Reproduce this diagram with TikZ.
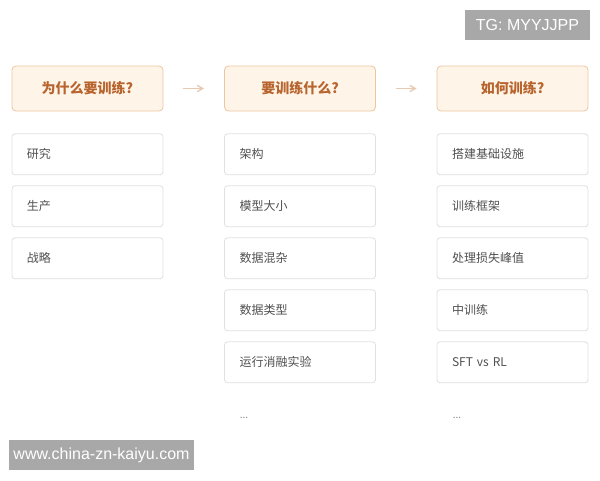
\documentclass[tikz,border=0pt]{standalone}
\usepackage{fontspec}
\setmainfont{Noto Sans CJK SC}
\newfontfamily\markfont{Liberation Sans}
\usepackage{tikz}
\usetikzlibrary{arrows,positioning}
\definecolor{headfill}{HTML}{FEF5E8}
\definecolor{headline}{HTML}{EBC6A2}
\definecolor{headtext}{HTML}{B8642E}
\definecolor{itemline}{HTML}{E0E0E0}
\definecolor{itemtext}{HTML}{505050}
\definecolor{arrowcol}{HTML}{E6CBB2}
\definecolor{markgray}{HTML}{A8A8A8}
\tikzset{HEAD style/.style={draw=headline,fill=headfill,rounded corners=4pt,line width=0.8pt,
		minimum width=151pt,minimum height=45pt,font=\fontsize{14}{16}\selectfont\bfseries,text=headtext},
	ITEM style/.style={draw=itemline,fill=white,rounded corners=3pt,line width=0.8pt,
		minimum height=41pt,text width=121pt,inner xsep=15pt,align=left,
		font=\fontsize{12}{14}\selectfont,text=itemtext}}

\begin{document}
\begin{tikzpicture}[x=1pt,y=-1pt,node distance=10.2pt,>=angle 60]
	\useasboundingbox (0,0) rectangle (600,480);
	
	% the three questions
	\node[HEAD style] (H1) at (87.5,88.5) {为什么要训练?};
	\node[HEAD style] (H2) at (300,88.5) {要训练什么?};
	\node[HEAD style] (H3) at (512.5,88.5) {如何训练?};
	
	\draw[arrowcol, line width=1.4pt, ->, shorten <=20pt, shorten >=20pt] (H1) -- (H2);
	\draw[arrowcol, line width=1.4pt, ->, shorten <=20pt, shorten >=20pt] (H2) -- (H3);
	
	% column 1
	\node[ITEM style] (A1) [below=22pt of H1] {研究};
	\node[ITEM style] (A2) [below=of A1] {生产};
	\node[ITEM style] (A3) [below=of A2] {战略};
	
	% column 2
	\node[ITEM style] (B1) [below=22pt of H2] {架构};
	\node[ITEM style] (B2) [below=of B1] {模型大小};
	\node[ITEM style] (B3) [below=of B2] {数据混杂};
	\node[ITEM style] (B4) [below=of B3] {数据类型};
	\node[ITEM style] (B5) [below=of B4] {运行消融实验};
	\node[text=itemtext!70, font=\fontsize{10}{12}\selectfont] (B6) at (244,418) {...};
	
	% column 3
	\node[ITEM style] (C1) [below=22pt of H3] {搭建基础设施};
	\node[ITEM style] (C2) [below=of C1] {训练框架};
	\node[ITEM style] (C3) [below=of C2] {处理损失峰值};
	\node[ITEM style] (C4) [below=of C3] {中训练};
	\node[ITEM style] (C5) [below=of C4] {SFT vs RL};
	\node[text=itemtext!70, font=\fontsize{10}{12}\selectfont] (C6) at (457,418) {...};
	
	% marks
	\node[fill=markgray, text=white, minimum width=125pt, minimum height=30pt,
		font=\markfont\fontsize{16}{18}\selectfont] (TG) at (527.5,25) {TG: MYYJJPP};
	\node[fill=markgray, text=white, minimum width=185pt, minimum height=30pt,
		font=\markfont\fontsize{16}{18}\selectfont] (WW) at (101.5,455) {www.china-zn-kaiyu.com};
\end{tikzpicture}
\end{document}
